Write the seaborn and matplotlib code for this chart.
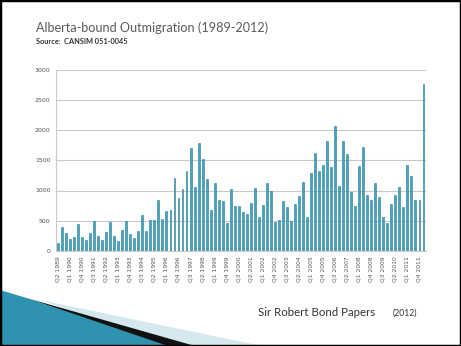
import matplotlib
matplotlib.use("Agg")
import matplotlib.pyplot as plt
from matplotlib.patches import Polygon, Rectangle
import seaborn as sns
import pandas as pd

# ---- data ----
start_year = 1989
start_q = 2
values = [130, 400, 290, 200, 230, 440, 230, 190, 300, 500, 250, 180, 320, 480, 240,
          170, 350, 500, 280, 220, 330, 600, 330,
          510, 510, 840, 530, 660, 680, 1200, 870, 1020, 1330, 1700, 1065, 1780, 1520,
          1190, 680, 1125, 840, 820, 470, 1030, 750, 750, 650,
          610, 800, 1040, 560, 755, 1120, 990, 475, 510, 820, 720, 490, 785, 910, 1140,
          560, 1285, 1620, 1330, 1425, 1820, 1385, 2060, 1070,
          1820, 1600, 970, 745, 1400, 1720, 920, 845, 1120, 890, 570, 465, 770, 920,
          1060, 720, 1420, 1245, 845, 845, 2760]
quarters = []
y, q = start_year, start_q
for _ in values:
    quarters.append(f"Q{q} {y}")
    q += 1
    if q > 4:
        q = 1
        y += 1
y_ticks = [0, 500, 1000, 1500, 2000, 2500, 3000]

title = "Alberta-bound Outmigration (1989-2012)"
source = "Source:  CANSIM 051-0045"
footer = "Sir Robert Bond Papers"
footer_year = "(2012)"

df = pd.DataFrame({"quarter": quarters, "value": values})

W, H = 461, 346
sns.set_style("white")
plt.rcParams["font.family"] = ["DejaVu Sans"]
fig = plt.figure(figsize=(W / 100, H / 100), dpi=100)

def fx(px):
    return px / W

def fy(py):
    return 1 - py / H

# decorative swoosh
fig.add_artist(Polygon([(fx(40), fy(300)), (fx(262), fy(346)), (fx(170), fy(346))],
                       closed=True, transform=fig.transFigure, facecolor="#d5e8ef",
                       edgecolor="none", zorder=0))
fig.add_artist(Polygon([(fx(30), fy(299)), (fx(195), fy(346)), (fx(160), fy(346))],
                       closed=True, transform=fig.transFigure, facecolor="#111111",
                       edgecolor="none", zorder=0))
fig.add_artist(Polygon([(fx(0), fy(290)), (fx(30), fy(299)), (fx(168), fy(346)), (fx(0), fy(346))],
                       closed=True, transform=fig.transFigure, facecolor="#2f93b0",
                       edgecolor="none", zorder=0))

ax = fig.add_axes([fx(56), fy(251), fx(425.5) - fx(56), fy(69.5) - fy(251)])
sns.barplot(data=df, x="quarter", y="value", color="#42a5bf", width=0.48,
            edgecolor="#2a7c94", linewidth=0.4, saturation=1, ax=ax, zorder=3)
ax.set_xlim(-0.5, len(values) - 0.5)
ax.set_ylim(0, 3000)
ax.set_yticks(y_ticks)
ax.set_yticklabels([str(v) for v in y_ticks], fontsize=4.5, color="#555555")
ax.yaxis.grid(True, color="#c9c9c9", linewidth=0.8, zorder=0)
ax.set_axisbelow(True)
tick_idx = list(range(0, len(values), 3))
ax.set_xticks(tick_idx)
ax.set_xticklabels([quarters[i] for i in tick_idx], rotation=90, fontsize=4.3,
                   color="#555555")
ax.set_xticks([i - 0.5 for i in range(len(values) + 1)], minor=True)
ax.tick_params(axis="x", which="major", length=0, pad=4)
ax.tick_params(axis="x", which="minor", length=2, color="#aaaaaa", width=0.5)
ax.tick_params(axis="y", length=0, pad=4)
ax.set_xlabel("")
ax.set_ylabel("")
for s in ["top", "right"]:
    ax.spines[s].set_visible(False)
ax.spines["left"].set_color("#c9c9c9")
ax.spines["bottom"].set_color("#c9c9c9")
ax.spines["left"].set_linewidth(0.8)
ax.spines["bottom"].set_linewidth(0.8)

fig.text(fx(36), fy(32), title, fontsize=9.1, color="#5a5a5a", family="Lato", va="baseline")
fig.text(fx(36), fy(44.5), source, fontsize=5.3, color="#333333", family="Lato",
         weight="bold", va="baseline")
fig.text(fx(258), fy(316), footer, fontsize=8.3, color="#333333", family="Lato", va="baseline")
fig.text(fx(393), fy(316), footer_year, fontsize=6.2, color="#333333", family="Lato", va="baseline")

fig.add_artist(Rectangle((0, 0), 1, 1, transform=fig.transFigure, fill=False,
                         edgecolor="black", linewidth=2.5, zorder=10))

fig.savefig("out.png", dpi=100)
